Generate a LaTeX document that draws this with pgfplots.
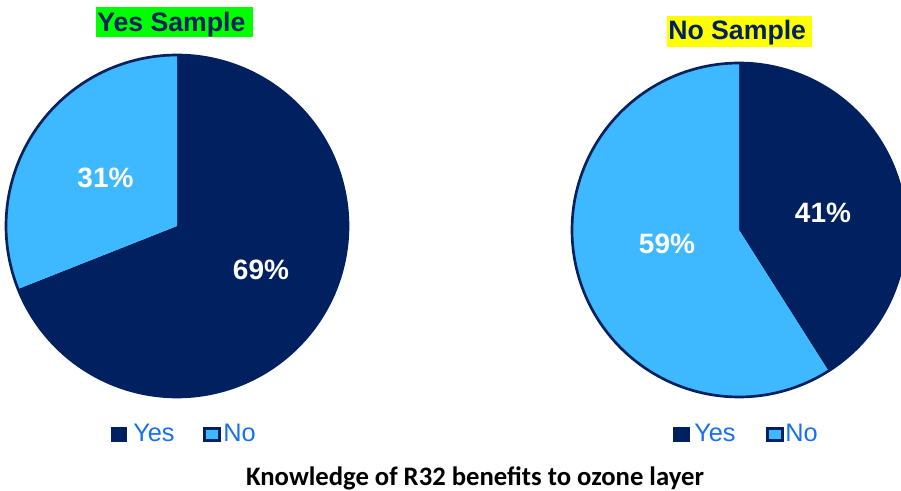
\documentclass[border=0pt]{standalone}
\usepackage{fontspec}
\setmainfont{Liberation Sans}
\newfontfamily\calibri{Carlito}
\usepackage{pgfplots}
\pgfplotsset{compat=1.18}
\definecolor{navy}{HTML}{002060}
\definecolor{sky}{HTML}{3EB8FF}
\definecolor{legblue}{HTML}{1670F0}
\definecolor{hlgreen}{HTML}{00FF00}
\definecolor{hlyellow}{HTML}{FFFF00}
% data (percent)
\def\yesA{69}\def\noA{31}
\def\yesB{41}\def\noB{59}
\pgfmathsetmacro\endA{90-3.6*\yesA}
\pgfmathsetmacro\endAb{90+3.6*\noA}
\pgfmathsetmacro\endB{90-3.6*\yesB}
\pgfmathsetmacro\endBb{90+3.6*\noB}
\begin{document}
\begin{tikzpicture}
\begin{axis}[scale only axis, width=675.75pt, height=368.25pt,
  xmin=0, xmax=901, ymin=0, ymax=491, y dir=reverse, hide axis, clip=true]
% left pie
\addplot[fill=navy, draw=none, domain=\endA:90, samples=150, variable=\t]
  ({177+171*cos(t)},{226-171*sin(t)}) -- (axis cs:177,226) -- cycle;
\addplot[fill=sky, draw=none, domain=90:\endAb, samples=80, variable=\t]
  ({177+171*cos(t)},{226-171*sin(t)}) -- (axis cs:177,226) -- cycle;
\addplot[draw=navy, line width=2pt, domain=0:360, samples=240, variable=\t]
  ({177+171*cos(t)},{226-171*sin(t)});
% right pie
\addplot[fill=navy, draw=none, domain=\endB:90, samples=100, variable=\t]
  ({739+167*cos(t)},{230-167*sin(t)}) -- (axis cs:739,230) -- cycle;
\addplot[fill=sky, draw=none, domain=90:\endBb, samples=150, variable=\t]
  ({739+167*cos(t)},{230-167*sin(t)}) -- (axis cs:739,230) -- cycle;
\addplot[draw=navy, line width=2pt, domain=0:360, samples=240, variable=\t]
  ({739+167*cos(t)},{230-167*sin(t)});
% percent labels
\node[text=white, font=\bfseries\fontsize{21}{25}\selectfont] at (axis cs:105.5,178) {\noA\%};
\node[text=white, font=\bfseries\fontsize{21}{25}\selectfont] at (axis cs:261,270) {\yesA\%};
\node[text=white, font=\bfseries\fontsize{21}{25}\selectfont] at (axis cs:823,213) {\yesB\%};
\node[text=white, font=\bfseries\fontsize{21}{25}\selectfont] at (axis cs:667,244) {\noB\%};
% titles
\fill[hlgreen] (axis cs:96,7) rectangle (axis cs:253,37);
\node[anchor=base west, inner sep=0, text=navy, font=\bfseries\fontsize{20}{24}\selectfont] at (axis cs:97,32) {Yes Sample};
\fill[hlyellow] (axis cs:667,16) rectangle (axis cs:812,47);
\node[anchor=base west, inner sep=0, text=navy, font=\bfseries\fontsize{20}{24}\selectfont] at (axis cs:668,40) {No Sample};
% legends
\fill[navy] (axis cs:111,427) rectangle (axis cs:127,442);
\filldraw[fill=sky, draw=navy, line width=2.2pt] (axis cs:204.5,428.5) rectangle (axis cs:219.5,440.5);
\node[anchor=base west, inner sep=0, text=legblue, font=\fontsize{19}{23}\selectfont] at (axis cs:133,442) {Yes};
\node[anchor=base west, inner sep=0, text=legblue, font=\fontsize{19}{23}\selectfont] at (axis cs:223,442) {No};
\fill[navy] (axis cs:673,427) rectangle (axis cs:690,442);
\filldraw[fill=sky, draw=navy, line width=2.2pt] (axis cs:767.5,428.5) rectangle (axis cs:782.5,440.5);
\node[anchor=base west, inner sep=0, text=legblue, font=\fontsize{19}{23}\selectfont] at (axis cs:694,442) {Yes};
\node[anchor=base west, inner sep=0, text=legblue, font=\fontsize{19}{23}\selectfont] at (axis cs:785,442) {No};
% bottom title
\node[anchor=base, inner sep=0, font=\calibri\bfseries\fontsize{20}{24}\selectfont] at (axis cs:475,486) {Knowledge of R32 benefits to ozone layer};
\end{axis}
\pgfresetboundingbox
\path (current axis.south west) rectangle (current axis.north east);
\end{tikzpicture}
\end{document}
